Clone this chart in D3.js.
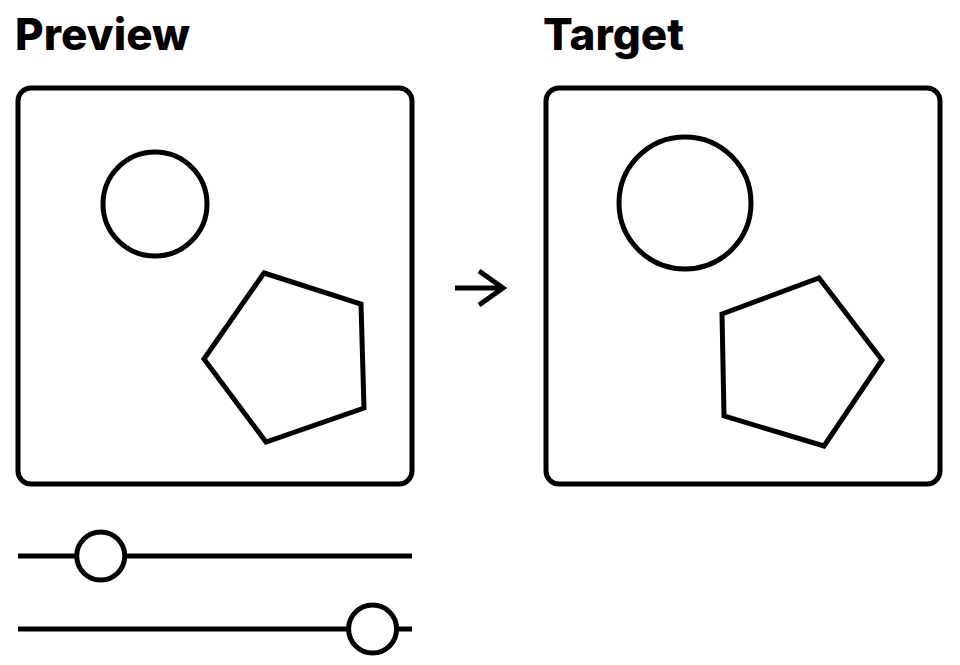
<!DOCTYPE html>
<html>
<head>
<meta charset="utf-8">
<script src="https://cdn.jsdelivr.net/npm/d3@7"></script>
<style>
  body { margin: 0; background: #fff; }
  text { font-family: "Inter", "DejaVu Sans", sans-serif; font-weight: 800; }
</style>
</head>
<body>
<svg id="chart"></svg>
<script>
// panel titles and frame positions
const titles = ["Preview", "Target"];
const panelX = [18, 546];

// shapes in each panel
const circles = [
  { cx: 155, cy: 204, r: 52 },
  { cx: 685, cy: 203, r: 66 }
];
const pentagons = [
  [[264, 273], [361, 304], [364, 408], [266, 442], [204, 359]],
  [[722, 314], [819, 278], [882, 360], [824, 446], [724, 416]]
];

// slider knob positions (0..1 along track)
const sliderY = [556, 629];
const sliderValues = [0.21, 0.90];

const width = 960, height = 665, stroke = 5;
const svg = d3.select("#chart").attr("width", width).attr("height", height);

const g = svg.append("g")
  .attr("fill", "none")
  .attr("stroke", "#000")
  .attr("stroke-width", stroke)
  .attr("stroke-linejoin", "miter");

svg.selectAll("text.title")
  .data(titles)
  .join("text")
  .attr("class", "title")
  .attr("x", (d, i) => panelX[i] - 3)
  .attr("y", 50)
  .attr("font-size", 44)
  .text(d => d);

g.selectAll("rect.panel")
  .data(panelX)
  .join("rect")
  .attr("x", d => d)
  .attr("y", 88)
  .attr("width", 394)
  .attr("height", 396)
  .attr("rx", 13);

g.selectAll("circle.shape")
  .data(circles)
  .join("circle")
  .attr("cx", d => d.cx)
  .attr("cy", d => d.cy)
  .attr("r", d => d.r);

const line = d3.line().curve(d3.curveLinearClosed);
g.selectAll("path.pent")
  .data(pentagons)
  .join("path")
  .attr("d", d => line(d));

// arrow between panels
g.append("line").attr("x1", 455).attr("x2", 503).attr("y1", 288).attr("y2", 288);
g.append("path").attr("d", line.curve(d3.curveLinear)([[479, 271], [503, 288], [479, 305]]));

// sliders
const sx = d3.scaleLinear().domain([0, 1]).range([18, 412]);
g.selectAll("line.track")
  .data(sliderY)
  .join("line")
  .attr("x1", sx(0)).attr("x2", sx(1))
  .attr("y1", d => d).attr("y2", d => d);

g.selectAll("circle.knob")
  .data(sliderValues)
  .join("circle")
  .attr("cx", d => sx(d))
  .attr("cy", (d, i) => sliderY[i])
  .attr("r", 24)
  .attr("fill", "#fff");
</script>
</body>
</html>
